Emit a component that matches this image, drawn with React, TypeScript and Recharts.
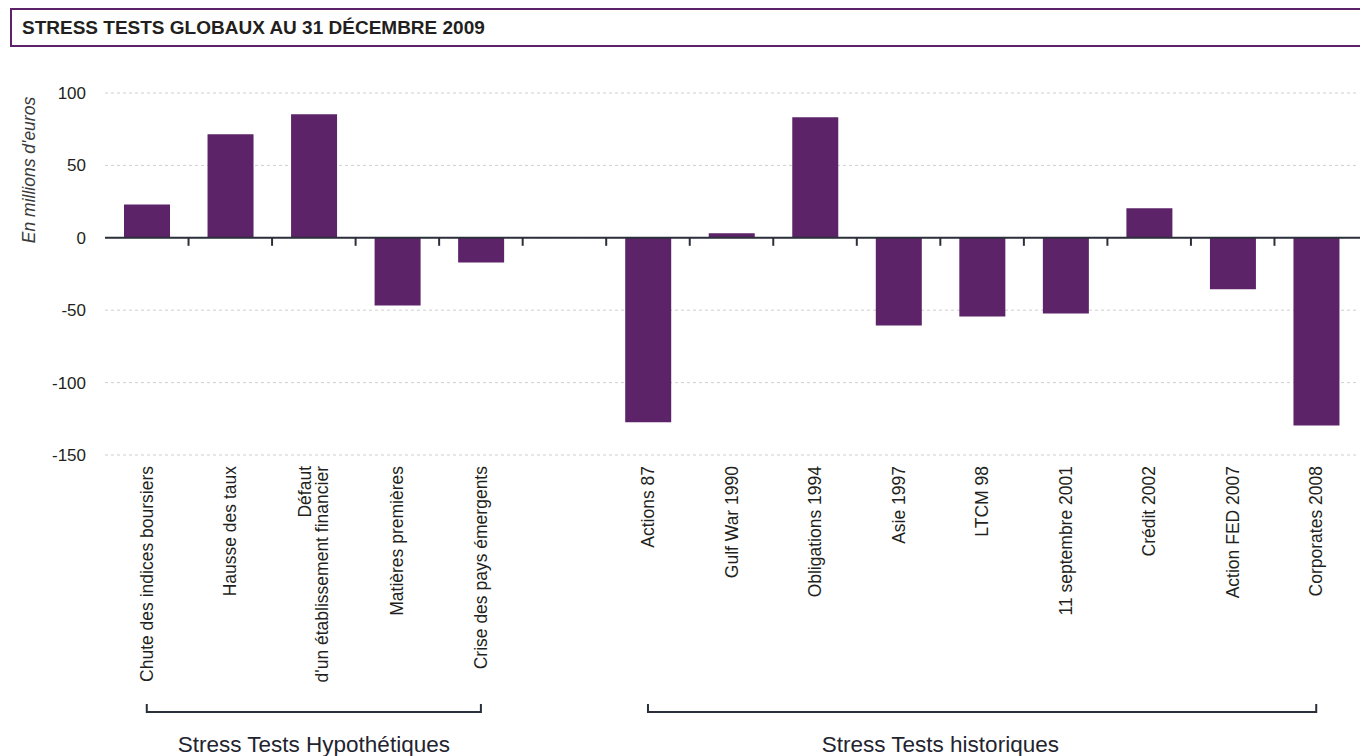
import { BarChart, Bar, XAxis, YAxis, CartesianGrid, ReferenceLine } from "recharts";

const hypoLabels = [
  "Chute des indices boursiers",
  "Hausse des taux",
  "Défaut\nd'un établissement financier",
  "Matières premières",
  "Crise des pays émergents",
];
const hypoValues = [23, 71.5, 85.4, -46.7, -17];

const histLabels = [
  "Actions 87",
  "Gulf War 1990",
  "Obligations 1994",
  "Asie 1997",
  "LTCM 98",
  "11 septembre 2001",
  "Crédit 2002",
  "Action FED 2007",
  "Corporates 2008",
];
const histValues = [-127.4, 3.1, 83.3, -60.5, -54.3, -52.2, 20.4, -35.6, -129.7];

const yTicks = [-150, -100, -50, 0, 50, 100];
const groupLabels = ["Stress Tests Hypothétiques", "Stress Tests historiques"];

// layout
const W = 1360;
const H = 756;
const PLOT_LEFT = 105;
const PLOT_RIGHT = 1358;
const PLOT_TOP = 93;
const PLOT_BOTTOM = 455;

const PURPLE = "#5c2368";
const INK = "#231f20";
const FONT = "'Liberation Sans', Arial, Helvetica, sans-serif";

const data = [
  ...hypoLabels.map((name, i) => ({ name, value: hypoValues[i] })),
  { name: "", value: null },
  ...histLabels.map((name, i) => ({ name, value: histValues[i] })),
];

const band = (PLOT_RIGHT - PLOT_LEFT) / data.length;

const groups = [
  { label: groupLabels[0], start: 0, count: hypoLabels.length, labelAt: 2 },
  { label: groupLabels[1], start: hypoLabels.length + 1, count: histLabels.length, labelAt: 3.5 },
];

function CategoryTick(props: any) {
  const { x, payload, index } = props;
  const fs = 17.5;
  const lh = 17;
  const top = PLOT_BOTTOM + 11;
  const lines = String(payload.value).split("\n").filter((l) => l !== "");
  const g = groups.find((gr) => gr.start === index);
  const by = PLOT_BOTTOM + 257;
  return (
    <g>
      {lines.length > 0 && (
        <text
          x={x}
          y={top}
          transform={`rotate(-90, ${x}, ${top})`}
          textAnchor="end"
          fontSize={fs}
          fill={INK}
          fontFamily={FONT}
        >
          {lines.map((l, i) => (
            <tspan key={i} x={x} dy={i === 0 ? 0.35 * fs - ((lines.length - 1) * lh) / 2 : lh}>
              {l}
            </tspan>
          ))}
        </text>
      )}
      {g && (
        <g>
          <path
            d={`M${x},${by - 8} L${x},${by} L${x + (g.count - 1) * band},${by} L${x + (g.count - 1) * band},${by - 8}`}
            fill="none"
            stroke="#2b2f3a"
            strokeWidth={2}
          />
          <text
            x={x + g.labelAt * band}
            y={by + 40}
            textAnchor="middle"
            fontSize={22.5}
            fill="#1f2430"
            fontFamily={FONT}
          >
            {g.label}
          </text>
        </g>
      )}
    </g>
  );
}

function ZeroLine(props: any) {
  const { x1, x2, y1 } = props;
  const step = (x2 - x1) / data.length;
  const marks = [];
  for (let i = 1; i < data.length; i++) {
    const tx = x1 + i * step;
    marks.push(<line key={i} x1={tx} x2={tx} y1={y1} y2={y1 + 8} stroke="#2b2f3a" strokeWidth={2} />);
  }
  return (
    <g>
      <line x1={x1} x2={x2 + 2} y1={y1} y2={y1} stroke="#2b2f3a" strokeWidth={2} />
      {marks}
    </g>
  );
}

function YLabel(props: any) {
  const vb = props.viewBox || { x: 25, y: PLOT_TOP };
  const cx = vb.x + 4;
  const cy = vb.y + 77;
  return (
    <text
      x={cx}
      y={cy}
      transform={`rotate(-90, ${cx}, ${cy})`}
      textAnchor="middle"
      dy="0.35em"
      fontSize={17.5}
      fontStyle="italic"
      fill="#3a3a3a"
      fontFamily={FONT}
    >
      En millions d'euros
    </text>
  );
}

export default function App() {
  return (
    <div
      style={{
        position: "absolute",
        left: 0,
        top: 0,
        width: W,
        height: H,
        overflow: "hidden",
        background: "#fff",
        fontFamily: FONT,
      }}
    >
      <div
        style={{
          position: "absolute",
          left: 10,
          top: 8,
          width: W,
          height: 35,
          border: `2px solid ${PURPLE}`,
          boxSizing: "content-box",
          paddingLeft: 10,
          lineHeight: "35px",
          fontSize: 19,
          fontWeight: 700,
          color: INK,
        }}
      >
        STRESS TESTS GLOBAUX AU 31 DÉCEMBRE 2009
      </div>
      <div style={{ position: "absolute", left: 0, top: 0 }}>
        <BarChart
          width={W}
          height={H}
          data={data}
          margin={{ top: PLOT_TOP, right: W - PLOT_RIGHT, bottom: 0, left: 25 }}
        >
          <CartesianGrid vertical={false} stroke="#cfcfcf" strokeDasharray="3 3" />
          <XAxis
            dataKey="name"
            interval={0}
            height={H - PLOT_BOTTOM}
            tickLine={false}
            axisLine={false}
            tick={<CategoryTick />}
          />
          <YAxis
            width={PLOT_LEFT - 25}
            domain={[-150, 100]}
            ticks={yTicks}
            tickLine={false}
            axisLine={false}
            tickMargin={13}
            tick={{ fontSize: 17, fill: INK, fontFamily: FONT }}
            label={<YLabel />}
          />
          <Bar dataKey="value" fill={PURPLE} barSize={46} isAnimationActive={false} />
          <ReferenceLine y={0} shape={<ZeroLine />} />
        </BarChart>
      </div>
    </div>
  );
}
